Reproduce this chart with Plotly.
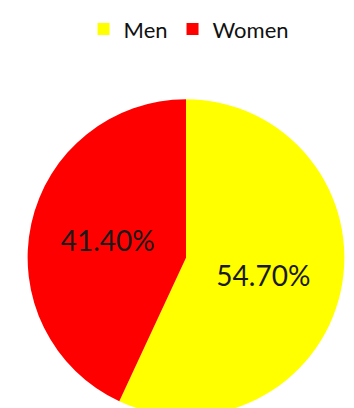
import plotly.graph_objects as go

labels = ["Men", "Women"]
values = [54.7, 41.4]
colors = ["#FFFF00", "#FF0000"]
pct_text = [f"{v:.2f}%" for v in values]

W, H = 354, 408
cx, cy, r = 178, 246, 166

fig = go.Figure(go.Pie(
    labels=labels,
    values=values,
    text=pct_text,
    textinfo="text",
    textposition="inside",
    insidetextorientation="horizontal",
    sort=False,
    direction="clockwise",
    rotation=0,
    marker=dict(colors=colors, line=dict(width=0)),
    textfont=dict(family="Lato, Open Sans, sans-serif", size=28, color="#1a1a1a"),
    hoverinfo="label+text",
    domain=dict(x=[max(0, (cx - r) / W), min(1, (cx + r) / W)],
                y=[max(0, (H - cy - r) / H), min(1, (H - cy + r) / H)]),
))

fig.update_layout(
    width=W, height=H,
    margin=dict(l=0, r=0, t=0, b=0),
    paper_bgcolor="white",
    plot_bgcolor="white",
    showlegend=True,
    legend=dict(
        orientation="h",
        x=0.51, xanchor="center",
        y=1.035, yanchor="top",
        font=dict(family="Lato, Open Sans, sans-serif", size=22, color="#111111"),
        itemsizing="constant",
        traceorder="normal",
        itemwidth=30,
    ),
)

fig.write_html("out.html")
